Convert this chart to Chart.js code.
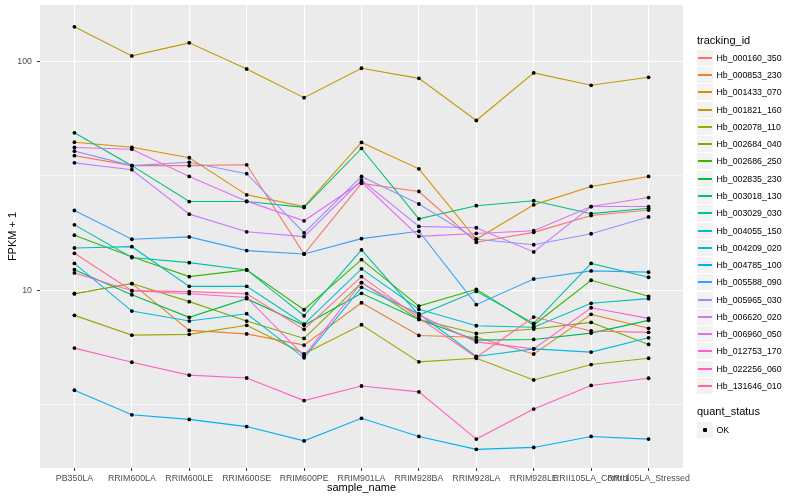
<!DOCTYPE html>
<html>
<head>
<meta charset="utf-8">
<script src="https://cdn.jsdelivr.net/npm/chart.js@4.4.1/dist/chart.umd.min.js"></script>
<style>
  body { margin: 0; background: #fff; }
  #wrap { position: relative; width: 800px; height: 500px; font-family: "Liberation Sans", Arial, sans-serif; }
  #chart { position: absolute; left: 0; top: 0; }
  .ltitle { position: absolute; left: 697px; font-size: 11px; color: #000; line-height: 13px; }
  .lkey { position: absolute; left: 697px; width: 16px; height: 16px; background: #F2F2F2; }
  .lline { position: absolute; left: 1px; width: 14px; top: 7px; height: 2px; }
  .ldot { position: absolute; left: 6px; top: 6px; width: 4px; height: 4px; border-radius: 1px; background: #000; }
  .ltext { position: absolute; left: 716.5px; font-size: 8.8px; color: #000; line-height: 10px; white-space: nowrap; }
</style>
</head>
<body>
<div id="wrap">
  <canvas id="chart" width="800" height="500"></canvas>
  <div id="legend"></div>
</div>
<script>
const sampleNames = ["PB350LA", "RRIM600LA", "RRIM600LE", "RRIM600SE", "RRIM600PE", "RRIM901LA",
  "RRIM928BA", "RRIM928LA", "RRIM928LE", "RRII105LA_Control", "RRII105LA_Stressed"];

const trackingIds = ["Hb_000160_350", "Hb_000853_230", "Hb_001433_070", "Hb_001821_160", "Hb_002078_110",
  "Hb_002684_040", "Hb_002686_250", "Hb_002835_230", "Hb_003018_130", "Hb_003029_030",
  "Hb_004055_150", "Hb_004209_020", "Hb_004785_100", "Hb_005588_090", "Hb_005965_030",
  "Hb_006620_020", "Hb_006960_050", "Hb_012753_170", "Hb_022256_060", "Hb_131646_010"];

const seriesColors = ["#F8766D", "#EA8331", "#D89000", "#C09B00", "#A3A500",
  "#7CAE00", "#39B600", "#00BB4E", "#00BF7D", "#00C1A3",
  "#00BFC4", "#00BAE0", "#00B0F6", "#35A2FF", "#9590FF",
  "#C77CFF", "#E76BF3", "#FA62DB", "#FF62BC", "#FF6C91"];

// FPKM + 1, one value per sample
const hb_000160_350 = [38.7, 35.0, 35.0, 35.3, 14.4, 29.3, 27.0, 16.2, 17.9, 21.2, 22.4];
const hb_000853_230 = [9.66, 10.7, 6.68, 6.45, 5.76, 8.82, 6.35, 6.24, 5.27, 7.85, 6.82];
const hb_001433_070 = [44.3, 42.1, 37.9, 26.1, 23.2, 44.2, 33.9, 16.7, 23.6, 28.4, 31.4];
const hb_001821_160 = [141.3, 105.5, 120.3, 92.5, 69.3, 93.2, 84.2, 55.1, 88.9, 78.5, 85.1];
const hb_002078_110 = [7.77, 6.37, 6.42, 7.03, 5.28, 7.07, 4.87, 5.05, 4.06, 4.74, 5.05];
const hb_002684_040 = [9.66, 10.7, 8.92, 7.34, 6.16, 10.8, 7.46, 6.48, 6.77, 7.24, 5.80];
const hb_002686_250 = [17.4, 14.0, 11.47, 12.27, 8.22, 13.6, 8.53, 10.1, 7.05, 11.06, 9.41];
const hb_002835_230 = [12.3, 9.56, 7.62, 9.19, 7.03, 9.7, 7.46, 6.06, 6.1, 6.5, 7.39];
const hb_003018_130 = [48.7, 35.0, 24.4, 24.4, 23.0, 41.6, 20.5, 23.4, 24.6, 21.6, 22.8];
const hb_003029_030 = [19.3, 13.9, 13.2, 12.27, 7.74, 15.0, 7.79, 9.9, 7.17, 13.1, 11.4];
const hb_004055_150 = [15.3, 15.5, 10.4, 10.4, 7.12, 12.4, 8.26, 7.0, 6.9, 8.77, 9.19];
const hb_004209_020 = [13.1, 8.11, 7.34, 7.9, 5.07, 10.3, 7.9, 5.14, 5.55, 5.37, 6.2];
const hb_004785_100 = [3.66, 2.86, 2.73, 2.54, 2.20, 2.76, 2.30, 2.02, 2.06, 2.30, 2.24];
const hb_005588_090 = [22.3, 16.7, 17.1, 14.9, 14.4, 16.8, 18.1, 8.65, 11.2, 12.15, 12.0];
const hb_005965_030 = [40.5, 35.0, 36.2, 32.3, 17.8, 31.4, 23.8, 16.7, 15.8, 17.65, 20.9];
const hb_006620_020 = [36.0, 33.6, 21.5, 18.0, 17.15, 30.3, 19.0, 18.75, 14.7, 23.2, 23.2];
const hb_006960_050 = [42.0, 41.3, 31.4, 24.5, 20.1, 29.7, 17.2, 17.7, 18.2, 23.2, 25.4];
const hb_012753_170 = [11.9, 9.96, 9.66, 9.30, 5.17, 10.8, 7.79, 5.95, 5.55, 8.39, 7.54];
const hb_022256_060 = [5.59, 4.85, 4.26, 4.14, 3.30, 3.82, 3.60, 2.24, 3.03, 3.84, 4.13];
const hb_131646_010 = [14.5, 9.96, 9.86, 9.66, 6.75, 11.47, 7.58, 5.1, 7.64, 6.64, 6.55];

const seriesValues = [hb_000160_350, hb_000853_230, hb_001433_070, hb_001821_160, hb_002078_110,
  hb_002684_040, hb_002686_250, hb_002835_230, hb_003018_130, hb_003029_030,
  hb_004055_150, hb_004209_020, hb_004785_100, hb_005588_090, hb_005965_030,
  hb_006620_020, hb_006960_050, hb_012753_170, hb_022256_060, hb_131646_010];

const yMajorTicks = [10, 100];
const yMinorTicks = [3.1623, 31.623];

const FONT = '"Liberation Sans", Arial, sans-serif';
Chart.defaults.font.family = FONT;

const toPoints = vals => vals.map((v, i) => ({ x: i, y: v }));
const isMajor = v => yMajorTicks.includes(v);

const lineSets = seriesValues.map((vals, i) => ({
  label: trackingIds[i],
  data: toPoints(vals),
  borderColor: seriesColors[i],
  borderWidth: 1.1,
  pointRadius: 0,
  tension: 0,
  order: 100 - i
}));

const pointSets = seriesValues.map((vals, i) => ({
  label: trackingIds[i] + " OK",
  data: toPoints(vals),
  showLine: false,
  pointRadius: 1.9,
  pointBorderWidth: 0,
  pointBackgroundColor: "#000000",
  order: 0
}));

const panelBg = {
  id: "panelBg",
  beforeDraw(chart) {
    const { ctx, chartArea: a } = chart;
    ctx.save();
    ctx.fillStyle = "#EBEBEB";
    ctx.fillRect(a.left, a.top, a.right - a.left, a.bottom - a.top);
    ctx.restore();
  }
};

new Chart(document.getElementById("chart"), {
  type: "line",
  data: { datasets: lineSets.concat(pointSets) },
  options: {
    responsive: false,
    animation: false,
    layout: { padding: { left: 0, right: 117, top: 5, bottom: 0 } },
    plugins: { legend: { display: false }, tooltip: { enabled: false } },
    scales: {
      x: {
        type: "linear",
        min: -0.6,
        max: 10.6,
        afterBuildTicks: s => { s.ticks = sampleNames.map((_, i) => ({ value: i })); },
        afterFit: s => { s.height = 32; s.paddingLeft = 0; s.paddingRight = 0; },
        ticks: {
          autoSkip: false, maxRotation: 0, minRotation: 0,
          callback: v => sampleNames[v],
          color: "#4D4D4D", font: { size: 8.8 }, padding: 2
        },
        grid: { color: "#FFFFFF", lineWidth: 1.1, tickLength: 3, tickColor: "#333333", tickWidth: 1 },
        border: { display: false },
        title: { display: true, text: "sample_name", color: "#000", font: { size: 11 }, padding: { top: 0, bottom: 5 } }
      },
      y: {
        type: "logarithmic",
        min: 1.675,
        max: 176,
        afterBuildTicks: s => { s.ticks = yMinorTicks.concat(yMajorTicks).sort((a, b) => a - b).map(v => ({ value: v })); },
        afterFit: s => { s.width = 40; s.paddingTop = 0; s.paddingBottom = 0; },
        ticks: {
          callback: v => isMajor(v) ? String(v) : "",
          color: "#4D4D4D", font: { size: 8.8 }, padding: 5
        },
        grid: {
          color: "#FFFFFF",
          lineWidth: c => (c.tick && isMajor(c.tick.value)) ? 1.1 : 0.55,
          tickLength: 3,
          tickColor: c => (c.tick && isMajor(c.tick.value)) ? "#333333" : "rgba(0,0,0,0)",
          tickWidth: 1
        },
        border: { display: false },
        title: { display: true, text: "FPKM + 1", color: "#000", font: { size: 11 }, padding: { top: 6, bottom: 0 } }
      }
    }
  },
  plugins: [panelBg]
});

// legend in the ggplot layout
const legend = document.getElementById("legend");
function addEl(cls, top, text) {
  const el = document.createElement("div");
  el.className = cls;
  el.style.top = top + "px";
  if (text) el.textContent = text;
  legend.appendChild(el);
  return el;
}
addEl("ltitle", 34, "tracking_id");
trackingIds.forEach((id, i) => {
  const cy = 57.7 + 17.28 * i;
  const key = addEl("lkey", Math.round(cy - 8));
  const ln = document.createElement("div");
  ln.className = "lline";
  ln.style.background = seriesColors[i];
  key.appendChild(ln);
  addEl("ltext", cy - 5, id);
});
addEl("ltitle", 405, "quant_status");
const okKey = addEl("lkey", 422);
const dot = document.createElement("div");
dot.className = "ldot";
okKey.appendChild(dot);
addEl("ltext", 425, "OK");
</script>
</body>
</html>
